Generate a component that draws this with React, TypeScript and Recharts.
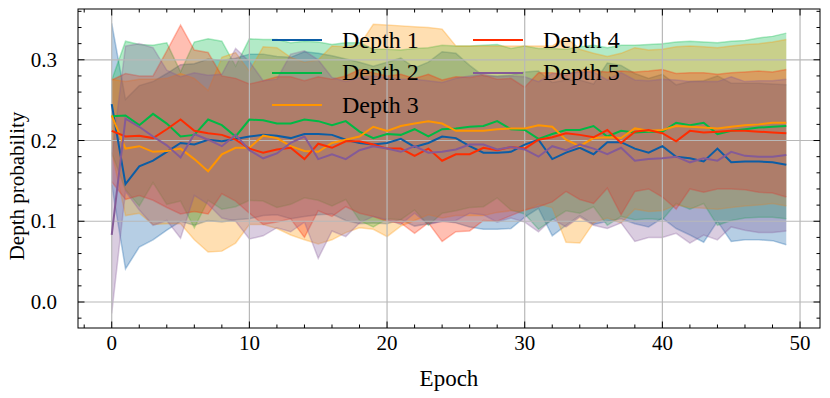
import React from 'react'
import { Area, ComposedChart, Line, ReferenceLine, XAxis, YAxis } from 'recharts'

const epochs = Array.from({ length: 50 }, (_, i) => i)

const names = ['Depth 1', 'Depth 2', 'Depth 3', 'Depth 4', 'Depth 5']
const COLORS = ['#0C5DA5', '#00B945', '#FF9500', '#FF2C00', '#845B97']

// mean depth probability per epoch
const depth1 = [0.245, 0.146, 0.168, 0.175, 0.186, 0.197, 0.195, 0.201, 0.199, 0.202, 0.205, 0.207, 0.206, 0.203, 0.208, 0.208, 0.207, 0.201, 0.197, 0.195, 0.197, 0.202, 0.192, 0.197, 0.205, 0.203, 0.193, 0.185, 0.185, 0.186, 0.195, 0.201, 0.177, 0.185, 0.191, 0.183, 0.198, 0.198, 0.190, 0.185, 0.193, 0.180, 0.178, 0.174, 0.190, 0.173, 0.174, 0.174, 0.173, 0.170]
const depth2 = [0.230, 0.231, 0.219, 0.233, 0.221, 0.205, 0.207, 0.226, 0.219, 0.205, 0.226, 0.225, 0.221, 0.221, 0.226, 0.224, 0.219, 0.224, 0.211, 0.203, 0.208, 0.207, 0.214, 0.205, 0.214, 0.215, 0.217, 0.218, 0.224, 0.214, 0.213, 0.202, 0.208, 0.213, 0.213, 0.218, 0.205, 0.212, 0.210, 0.211, 0.211, 0.222, 0.219, 0.222, 0.208, 0.212, 0.214, 0.216, 0.217, 0.218]
const depth3 = [0.231, 0.190, 0.193, 0.186, 0.187, 0.190, 0.177, 0.162, 0.183, 0.191, 0.191, 0.206, 0.203, 0.193, 0.187, 0.186, 0.197, 0.201, 0.205, 0.217, 0.212, 0.218, 0.221, 0.224, 0.221, 0.212, 0.212, 0.212, 0.214, 0.215, 0.215, 0.219, 0.217, 0.201, 0.193, 0.203, 0.204, 0.203, 0.215, 0.212, 0.213, 0.218, 0.217, 0.216, 0.215, 0.217, 0.219, 0.220, 0.222, 0.222]
const depth4 = [0.212, 0.205, 0.206, 0.203, 0.214, 0.226, 0.212, 0.209, 0.207, 0.201, 0.190, 0.185, 0.189, 0.191, 0.177, 0.196, 0.191, 0.199, 0.199, 0.195, 0.190, 0.190, 0.181, 0.190, 0.175, 0.183, 0.183, 0.191, 0.188, 0.192, 0.190, 0.201, 0.204, 0.209, 0.207, 0.204, 0.213, 0.197, 0.211, 0.213, 0.209, 0.199, 0.212, 0.210, 0.211, 0.212, 0.212, 0.211, 0.210, 0.209]
const depth5 = [0.083, 0.227, 0.217, 0.205, 0.194, 0.179, 0.208, 0.201, 0.193, 0.207, 0.188, 0.178, 0.184, 0.197, 0.205, 0.177, 0.183, 0.177, 0.188, 0.193, 0.190, 0.186, 0.193, 0.185, 0.186, 0.189, 0.195, 0.195, 0.189, 0.192, 0.189, 0.180, 0.193, 0.188, 0.195, 0.190, 0.183, 0.191, 0.175, 0.177, 0.178, 0.180, 0.173, 0.178, 0.175, 0.186, 0.181, 0.180, 0.180, 0.182]

// spread (std) per epoch, band = mean +/- std
const std1 = [0.100, 0.105, 0.100, 0.098, 0.097, 0.097, 0.100, 0.100, 0.100, 0.100, 0.102, 0.100, 0.098, 0.100, 0.102, 0.100, 0.098, 0.100, 0.100, 0.097, 0.100, 0.100, 0.098, 0.100, 0.105, 0.105, 0.100, 0.095, 0.095, 0.095, 0.090, 0.085, 0.095, 0.090, 0.084, 0.087, 0.098, 0.095, 0.093, 0.092, 0.089, 0.089, 0.095, 0.100, 0.090, 0.098, 0.097, 0.097, 0.097, 0.099]
const std2 = [0.045, 0.092, 0.100, 0.085, 0.100, 0.080, 0.115, 0.100, 0.104, 0.087, 0.100, 0.100, 0.104, 0.100, 0.097, 0.098, 0.100, 0.097, 0.110, 0.110, 0.105, 0.105, 0.100, 0.110, 0.104, 0.102, 0.100, 0.100, 0.095, 0.100, 0.104, 0.112, 0.106, 0.100, 0.103, 0.100, 0.110, 0.106, 0.108, 0.108, 0.109, 0.100, 0.104, 0.100, 0.113, 0.111, 0.110, 0.111, 0.112, 0.115]
const std3 = [0.045, 0.083, 0.083, 0.090, 0.090, 0.093, 0.100, 0.100, 0.120, 0.118, 0.095, 0.110, 0.112, 0.110, 0.110, 0.114, 0.120, 0.115, 0.113, 0.127, 0.131, 0.124, 0.120, 0.116, 0.117, 0.105, 0.105, 0.105, 0.103, 0.102, 0.102, 0.098, 0.100, 0.127, 0.120, 0.105, 0.100, 0.105, 0.100, 0.100, 0.100, 0.098, 0.100, 0.100, 0.100, 0.100, 0.100, 0.100, 0.100, 0.103]
const std4 = [0.063, 0.078, 0.074, 0.077, 0.097, 0.117, 0.100, 0.100, 0.073, 0.076, 0.080, 0.089, 0.090, 0.088, 0.097, 0.083, 0.085, 0.081, 0.089, 0.089, 0.090, 0.092, 0.096, 0.092, 0.100, 0.096, 0.095, 0.090, 0.088, 0.085, 0.076, 0.083, 0.080, 0.072, 0.080, 0.082, 0.072, 0.089, 0.074, 0.073, 0.079, 0.084, 0.072, 0.074, 0.071, 0.072, 0.073, 0.075, 0.075, 0.079]
const std5 = [0.097, 0.090, 0.103, 0.110, 0.093, 0.100, 0.076, 0.080, 0.089, 0.107, 0.110, 0.096, 0.092, 0.110, 0.106, 0.123, 0.095, 0.096, 0.090, 0.087, 0.088, 0.090, 0.083, 0.089, 0.086, 0.088, 0.085, 0.087, 0.090, 0.088, 0.090, 0.093, 0.090, 0.095, 0.090, 0.095, 0.092, 0.093, 0.100, 0.097, 0.098, 0.095, 0.100, 0.095, 0.098, 0.093, 0.092, 0.094, 0.094, 0.094]

const means = [depth1, depth2, depth3, depth4, depth5]
const stds = [std1, std2, std3, std4, std5]

const xMajor = [0, 10, 20, 30, 40, 50]
const xMinor = [-2, 2, 4, 6, 8, 12, 14, 16, 18, 22, 24, 26, 28, 32, 34, 36, 38, 42, 44, 46, 48]
const yMajor = [0, 0.1, 0.2, 0.3]
const yMinor = [-0.02, 0.02, 0.04, 0.06, 0.08, 0.12, 0.14, 0.16, 0.18, 0.22, 0.24, 0.26, 0.28, 0.32, 0.34, 0.36]

const data = epochs.map((e, i) => {
  const row: any = { epoch: e }
  means.forEach((m, k) => {
    row['m' + k] = m[i]
    row['b' + k] = [m[i] - stds[k][i], m[i] + stds[k][i]]
  })
  return row
})

const FONT = "'Liberation Serif', 'Times New Roman', serif"
const W = 830
const H = 398
const MARGIN = { top: 9, right: 10, bottom: 0, left: 0 }
const Y_AXIS_W = 78
const X_AXIS_H = 70
const X_DOMAIN = [-2.45, 51.45]
const Y_DOMAIN = [-0.0322, 0.3629]
const GRID = '#b8b8b8'

// plot box (same numbers recharts gets through margin/width/height)
const PL = MARGIN.left + Y_AXIS_W
const PR = W - MARGIN.right
const PT = MARGIN.top
const PB = H - X_AXIS_H
const sx = (v: number) => PL + ((v - X_DOMAIN[0]) / (X_DOMAIN[1] - X_DOMAIN[0])) * (PR - PL)
const sy = (v: number) => PB - ((v - Y_DOMAIN[0]) / (Y_DOMAIN[1] - Y_DOMAIN[0])) * (PB - PT)

const isMajor = (v: number, majors: number[]) => majors.some((m) => Math.abs(m - v) < 1e-9)

const BottomTick = ({ x, y, payload }: any) =>
  isMajor(payload.value, xMajor) ? (
    <text x={x} y={y + 22} textAnchor="middle" fontSize={21} fontFamily={FONT} fill="#000">
      {payload.value}
    </text>
  ) : (
    <g />
  )

const LeftTick = ({ x, y, payload }: any) =>
  isMajor(payload.value, yMajor) ? (
    <text x={x - 21} y={y + 7} textAnchor="end" fontSize={21} fontFamily={FONT} fill="#000">
      {payload.value.toFixed(1)}
    </text>
  ) : (
    <g />
  )

// frame with inward ticks on all four sides
function Frame() {
  const xTicks = [...xMajor, ...xMinor]
  const yTicks = [...yMajor, ...yMinor]
  return (
    <svg
      width={W}
      height={H}
      style={{ position: 'absolute', left: 0, top: 0, pointerEvents: 'none' }}
    >
      <rect x={PL} y={PT} width={PR - PL} height={PB - PT} fill="none" stroke="#000" strokeWidth={1} />
      {xTicks.map((v) => {
        const len = isMajor(v, xMajor) ? 6.5 : 3.5
        const x = sx(v)
        return (
          <g key={'xt' + v}>
            <line x1={x} y1={PB} x2={x} y2={PB - len} stroke="#000" strokeWidth={1} />
            <line x1={x} y1={PT} x2={x} y2={PT + len} stroke="#000" strokeWidth={1} />
          </g>
        )
      })}
      {yTicks.map((v) => {
        const len = isMajor(v, yMajor) ? 6.5 : 3.5
        const y = sy(v)
        return (
          <g key={'yt' + v}>
            <line x1={PL} y1={y} x2={PL + len} y2={y} stroke="#000" strokeWidth={1} />
            <line x1={PR} y1={y} x2={PR - len} y2={y} stroke="#000" strokeWidth={1} />
          </g>
        )
      })}
    </svg>
  )
}

export default function App() {
  const xTicks = [...xMajor, ...xMinor].sort((a, b) => a - b)
  const yTicks = [...yMajor, ...yMinor].sort((a, b) => a - b)
  return (
    <div style={{ position: 'absolute', left: 0, top: 0, width: W, height: H, background: '#fff' }}>
      <ComposedChart width={W} height={H} data={data} margin={MARGIN}>
        <XAxis
          dataKey="epoch"
          type="number"
          domain={X_DOMAIN}
          ticks={xTicks}
          interval={0}
          height={X_AXIS_H}
          tickSize={0}
          tickMargin={0}
          tickLine={false}
          tick={<BottomTick />}
          axisLine={false}
          label={() => (
            <text x={449} y={386} textAnchor="middle" fontSize={23} fontFamily={FONT} fill="#000">
              Epoch
            </text>
          )}
        />
        <YAxis
          type="number"
          domain={Y_DOMAIN}
          ticks={yTicks}
          interval={0}
          width={Y_AXIS_W}
          tickSize={0}
          tickMargin={0}
          tickLine={false}
          tick={<LeftTick />}
          axisLine={false}
          label={() => (
            <text
              x={24}
              y={186}
              transform="rotate(-90, 24, 186)"
              textAnchor="middle"
              fontSize={21}
              fontFamily={FONT}
              fill="#000"
            >
              Depth probability
            </text>
          )}
        />

        {names.map((n, k) => (
          <Area
            key={'band' + k}
            dataKey={'b' + k}
            type="linear"
            fill={COLORS[k]}
            fillOpacity={0.3}
            stroke={COLORS[k]}
            strokeOpacity={0.3}
            strokeWidth={1.5}
            legendType="none"
            isAnimationActive={false}
          />
        ))}

        {xMajor.map((v) => (
          <ReferenceLine key={'gx' + v} x={v} stroke={GRID} strokeWidth={1.2} />
        ))}
        {yMajor.map((v) => (
          <ReferenceLine key={'gy' + v} y={v} stroke={GRID} strokeWidth={1.2} />
        ))}

        {names.map((n, k) => (
          <Line
            key={'line' + k}
            dataKey={'m' + k}
            name={n}
            type="linear"
            stroke={COLORS[k]}
            strokeWidth={2}
            dot={false}
            activeDot={false}
            isAnimationActive={false}
          />
        ))}
      </ComposedChart>

      <Frame />

      <div
        style={{
          position: 'absolute',
          left: 272,
          top: 24,
          display: 'grid',
          gridTemplateColumns: '201px 200px',
          gridAutoFlow: 'column',
          gridTemplateRows: 'repeat(3, 32.5px)',
          fontFamily: FONT,
          fontSize: 24,
          color: '#000',
        }}
      >
        {names.map((n, k) => (
          <div key={n} style={{ display: 'flex', alignItems: 'center', height: 32.5 }}>
            <div style={{ width: 50, height: 2, background: COLORS[k], marginRight: 20 }} />
            <span>{n}</span>
          </div>
        ))}
      </div>
    </div>
  )
}
